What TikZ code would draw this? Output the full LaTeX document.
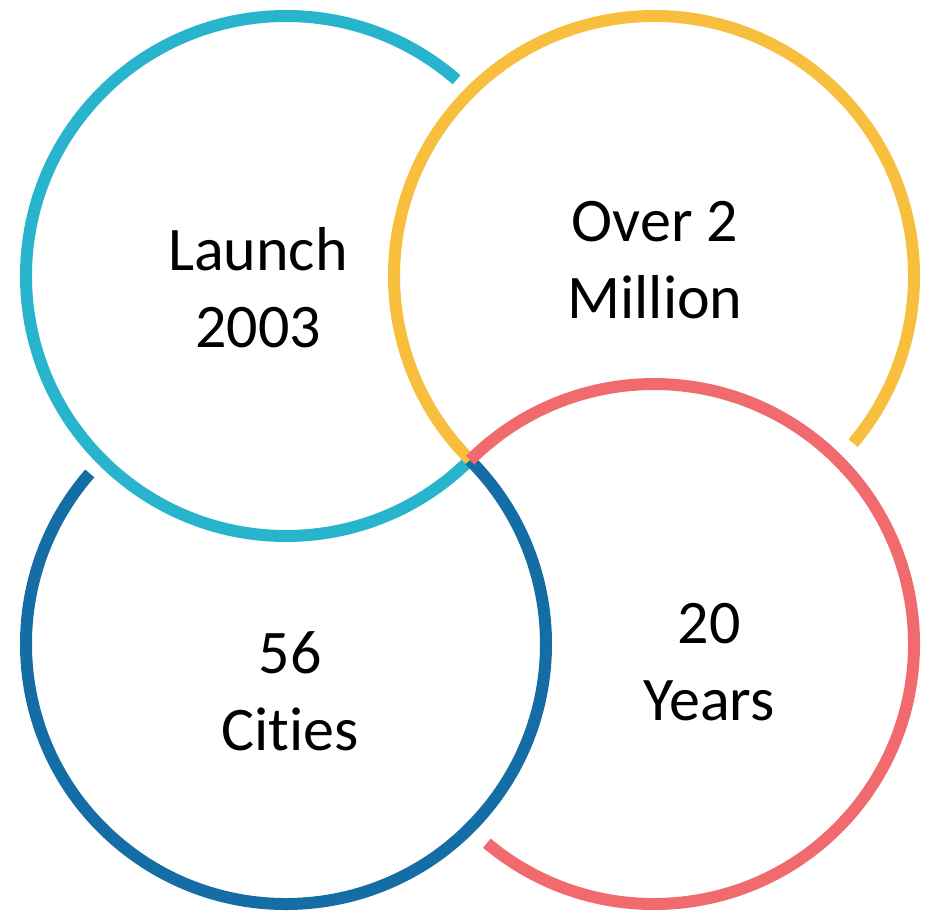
\documentclass[tikz,border=0pt]{standalone}
\usepackage{fontspec}
\setmainfont[Ligatures=NoCommon]{Carlito}
\usepackage{xcolor}
\usepackage{tikz}

\definecolor{launchblue}{RGB}{40,180,205}
\definecolor{millionyellow}{RGB}{248,190,62}
\definecolor{yearsred}{RGB}{240,106,110}
\definecolor{citiesblue}{RGB}{20,110,165}

\begin{document}
\begin{tikzpicture}[x=1pt, y=1pt, ring/.style={line width=12pt}, T node/.style={align=center, anchor=base, inner sep=0pt, font=\fontsize{62}{77}\selectfont}]
    \useasboundingbox (0,0) rectangle (941,-916);

    \coordinate (launchC) at (286,-276);
    \coordinate (millionC) at (654,-276);
    \coordinate (citiesC) at (286,-644);
    \coordinate (yearsC) at (654,-644);

    \draw[ring, launchblue] ([shift={(49:260)}]launchC) arc[start angle=49, end angle=315, radius=260];
    \draw[ring, millionyellow] ([shift={(-40:260)}]millionC) arc[start angle=-40, end angle=225, radius=260];
    \draw[ring, citiesblue] ([shift={(139:260)}]citiesC) arc[start angle=139, end angle=405, radius=260];
    \draw[ring, yearsred] ([shift={(-130:260)}]yearsC) arc[start angle=-130, end angle=135, radius=260];

    \node[T node] (launch) at (258,-347) {Launch\\2003};
    \node[T node] (million) at (655,-318) {Over 2\\Million};
    \node[T node] (cities) at (290,-750) {56\\Cities};
    \node[T node] (years) at (709,-720) {20\\Years};
\end{tikzpicture}
\end{document}
